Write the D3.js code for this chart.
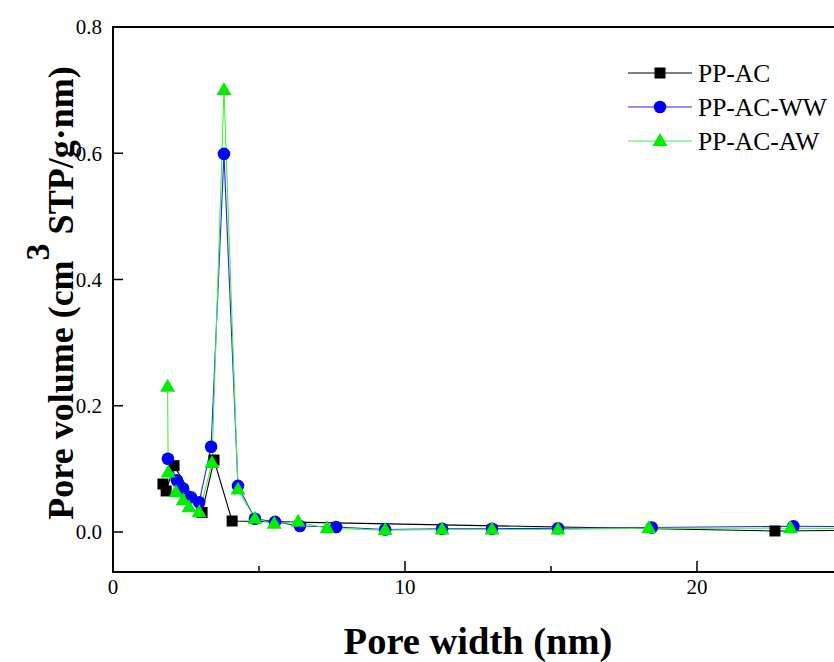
<!DOCTYPE html>
<html>
<head>
<meta charset="utf-8">
<script src="https://cdn.jsdelivr.net/npm/d3@7"></script>
<style>
  html, body { margin: 0; padding: 0; background: #fff; }
  svg { display: block; }
</style>
</head>
<body>
<svg id="chart" width="834" height="662"></svg>
<script>
// ---- data ----
const seriesNames = ["PP-AC", "PP-AC-WW", "PP-AC-AW"];
const ppAC = [
  [1.71, 0.076], [1.82, 0.065], [2.09, 0.105], [3.05, 0.031], [3.46, 0.114],
  [4.08, 0.0174], [22.67, 0.0016], [30.0, 0.004]
];
const ppACWW = [
  [1.88, 0.116], [2.19, 0.082], [2.40, 0.069], [2.67, 0.055], [2.95, 0.047],
  [3.36, 0.135], [3.80, 0.599], [4.28, 0.073], [4.86, 0.021], [5.55, 0.016],
  [6.40, 0.0095], [7.64, 0.008], [9.32, 0.004], [11.27, 0.005], [12.98, 0.005],
  [15.24, 0.006], [18.45, 0.007], [23.30, 0.009], [30.0, 0.007]
];
const ppACAW = [
  [1.87, 0.230], [1.89, 0.094], [2.16, 0.063], [2.40, 0.050], [2.60, 0.039],
  [2.95, 0.031], [3.39, 0.109], [3.80, 0.700], [4.28, 0.067], [4.86, 0.021],
  [5.52, 0.013], [6.34, 0.016], [7.33, 0.006], [9.32, 0.003], [11.27, 0.004],
  [12.98, 0.004], [15.24, 0.004], [18.35, 0.006], [23.20, 0.006], [30.0, 0.005]
];
const xTicks = [0, 10, 20];
const xMinorTicks = [5, 15, 25];
const yTicks = [0.0, 0.2, 0.4, 0.6, 0.8];
const xTitle = "Pore width (nm)";

// ---- layout ----
const svg = d3.select("#chart");
const mLeft = 113, mTop = 27, mBottom = 572;
const pxPerUnit = 29.2;
const xMax = 30;
const x = d3.scaleLinear().domain([0, xMax]).range([mLeft, mLeft + pxPerUnit * xMax]);
const y = d3.scaleLinear().domain([-0.0634, 0.8]).range([mBottom, mTop]);

const serif = "'Liberation Serif', 'Times New Roman', serif";

svg.append("defs").append("clipPath").attr("id", "clip")
  .append("rect").attr("x", mLeft).attr("y", mTop - 20).attr("width", 834 - mLeft).attr("height", mBottom - mTop + 20);

// ---- series ----
const colors = ["#000000", "#0000ff", "#00ee00"];
const lineColors = ["#000000", "#2222ff", "#44ee44"];
const datasets = [ppAC, ppACWW, ppACAW];
const line = d3.line().x(d => x(d[0])).y(d => y(d[1]));
const plot = svg.append("g").attr("clip-path", "url(#clip)");

function drawMarker(g, kind, cx, cy, color) {
  if (kind === 0) {
    g.append("rect").attr("x", cx - 5.5).attr("y", cy - 5.5).attr("width", 11).attr("height", 11).attr("fill", color);
  } else if (kind === 1) {
    g.append("circle").attr("cx", cx).attr("cy", cy).attr("r", 6.3).attr("fill", color);
  } else {
    const s = 15;
    const h = s * Math.sqrt(3) / 2;
    g.append("path")
      .attr("d", `M${cx},${cy - h * 0.62} L${cx + s / 2},${cy + h * 0.38} L${cx - s / 2},${cy + h * 0.38} Z`)
      .attr("fill", color);
  }
}

datasets.forEach((ds, i) => {
  plot.append("path").datum(ds).attr("d", line)
    .attr("fill", "none").attr("stroke", lineColors[i]).attr("stroke-width", 1.1);
});
datasets.forEach((ds, i) => {
  const g = plot.append("g");
  ds.forEach(d => drawMarker(g, i, x(d[0]), y(d[1]), colors[i]));
});

// ---- axes ----
const axG = svg.append("g");
axG.append("path")
  .attr("d", `M${834},${mTop} L${mLeft},${mTop} L${mLeft},${mBottom} L${834},${mBottom}`)
  .attr("fill", "none").attr("stroke", "#000").attr("stroke-width", 2);

yTicks.forEach(t => {
  axG.append("line").attr("x1", mLeft).attr("x2", mLeft + 10).attr("y1", y(t)).attr("y2", y(t))
    .attr("stroke", "#000").attr("stroke-width", 1.5);
  axG.append("text").attr("x", mLeft - 11).attr("y", y(t)).attr("dy", "0.35em")
    .attr("text-anchor", "end").attr("font-family", serif).attr("font-size", 21)
    .text(d3.format(".1f")(t));
});
xTicks.forEach(t => {
  axG.append("line").attr("x1", x(t)).attr("x2", x(t)).attr("y1", mBottom).attr("y2", mBottom - 11)
    .attr("stroke", "#000").attr("stroke-width", 1.5);
  axG.append("text").attr("x", x(t)).attr("y", mBottom + 22)
    .attr("text-anchor", "middle").attr("font-family", serif).attr("font-size", 21)
    .text(t);
});
xMinorTicks.forEach(t => {
  axG.append("line").attr("x1", x(t)).attr("x2", x(t)).attr("y1", mBottom).attr("y2", mBottom - 6)
    .attr("stroke", "#000").attr("stroke-width", 1.5);
});

// ---- titles ----
svg.append("text").attr("x", 478).attr("y", 654).attr("text-anchor", "middle")
  .attr("font-family", serif).attr("font-weight", "bold").attr("font-size", 38.5)
  .text(xTitle);

const yt = svg.append("text")
  .attr("transform", "translate(73,293) rotate(-90)")
  .attr("text-anchor", "middle")
  .attr("font-family", serif).attr("font-weight", "bold").attr("font-size", 36);
yt.append("tspan").text("Pore volume (cm");
yt.append("tspan").attr("dy", -24).attr("font-size", 34).text("3");
yt.append("tspan").attr("dy", 24).text(" STP/g\u00B7nm)");

// ---- legend ----
const lg = svg.append("g");
const legendRows = [73, 107, 141];
seriesNames.forEach((name, i) => {
  const ly = legendRows[i];
  lg.append("line").attr("x1", 628).attr("x2", 692).attr("y1", ly).attr("y2", ly)
    .attr("stroke", lineColors[i]).attr("stroke-width", 1.1);
  drawMarker(lg, i, 660, ly, colors[i]);
  lg.append("text").attr("x", 698).attr("y", ly).attr("dy", "0.35em")
    .attr("font-family", serif).attr("font-size", 25.5).text(name);
});
</script>
</body>
</html>
